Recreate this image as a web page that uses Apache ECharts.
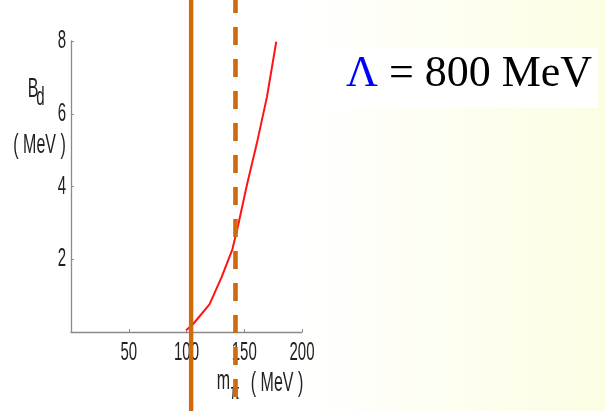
<!DOCTYPE html>
<html>
<head>
<meta charset="utf-8">
<script src="https://cdn.jsdelivr.net/npm/echarts@6/dist/echarts.min.js"></script>
<style>
html,body{margin:0;padding:0;width:605px;height:411px;overflow:hidden;
background:linear-gradient(to right,#ffffff 0%,#ffffff 50%,#fcfde3 100%);}
#c{width:605px;height:411px;}
</style>
</head>
<body>
<div id="c"></div>
<script>
// Red curve B_d vs m_pi (MeV)
const mPi = [99.7, 105.8, 119.9, 130.6, 139.8, 144.2, 152.3, 161.0, 169.7, 177.7];
const bD  = [0.05, 0.22, 0.76, 1.52, 2.28, 2.86, 4.04, 5.20, 6.47, 7.98];
// vertical reference lines (x in MeV)
const solidLineX = 104;
const dashedLineX = 142.4;
const xTicks = [50, 100, 150, 200];
const yTicks = [2, 4, 6, 8];

const chart = echarts.init(document.getElementById('c'), null, {renderer:'canvas'});
const sansFont = '"Liberation Sans",Arial,sans-serif';
const serifFont = '"Liberation Serif","Times New Roman",serif';
const axisCol = '#8a8a8a';
const txtCol = '#222';
const orange = '#d06a0c';
const SY = 1.75;

const curve = mPi.map((x,i)=>[x,bD[i]]);

chart.setOption({
  backgroundColor:'transparent',
  animation:false,
  grid:[
    {left:71,right:303,top:41,bottom:79},
    {left:71,right:303,top:0,bottom:0}
  ],
  xAxis:[
    {gridIndex:0,type:'value',min:0,max:200,interval:50,
     axisLine:{lineStyle:{color:axisCol,width:1.3}},
     axisTick:{inside:true,length:3,lineStyle:{color:axisCol}},
     splitLine:{show:false},
     axisLabel:{show:false}},
    {gridIndex:1,type:'value',min:0,max:200,show:false}
  ],
  yAxis:[
    {gridIndex:0,type:'value',min:0,max:8,interval:2,
     axisLine:{show:true,lineStyle:{color:axisCol,width:1.3}},
     axisTick:{show:true,inside:true,length:3,lineStyle:{color:axisCol}},
     splitLine:{show:false},
     axisLabel:{show:false}},
    {gridIndex:1,type:'value',min:0,max:1,show:false}
  ],
  series:[
    {type:'line',xAxisIndex:0,yAxisIndex:0,data:curve,showSymbol:false,
     lineStyle:{color:'#ff1414',width:2},z:3},
    {type:'line',xAxisIndex:1,yAxisIndex:1,data:[[solidLineX,1],[solidLineX,0]],showSymbol:false,
     lineStyle:{color:orange,width:4.4},z:20,silent:true},
    {type:'line',xAxisIndex:1,yAxisIndex:1,data:[[dashedLineX,1],[dashedLineX,0]],showSymbol:false,
     lineStyle:{color:orange,width:4.6,type:[18,14],dashOffset:5},z:20,silent:true}
  ]
});

function stretched(text, x, y, size, align, z){
  return {type:'text',x:x,y:y,scaleY:SY,z:z||1,zlevel:0,silent:true,
    style:{text:text,fontFamily:sansFont,fontSize:size,fill:txtCol,align:align||'center',verticalAlign:'middle'}};
}

const g = [];
// tick labels positioned via the axes' scales
xTicks.forEach(v=>{
  const p = chart.convertToPixel({xAxisIndex:0,yAxisIndex:0},[v,0]);
  g.push(stretched(String(v), p[0], p[1]+20.5, 15, 'center'));
});
yTicks.forEach(v=>{
  const p = chart.convertToPixel({xAxisIndex:0,yAxisIndex:0},[0,v]);
  g.push(stretched(String(v), p[0]-5, p[1], 15, 'right'));
});
// axis titles
g.push(stretched('B', 33, 89.5, 16, 'center'));
g.push(stretched('d', 40.5, 98, 15, 'center'));
g.push(stretched('( MeV )', 39.5, 145, 16, 'center'));
g.push(stretched('m', 223.5, 381.5, 16, 'center'));
g.push(stretched('π', 235, 393, 13, 'center'));
g.push(stretched('( MeV )', 277, 383.5, 16, 'center'));
// Lambda box
g.push({type:'rect',shape:{x:322,y:48,width:276,height:60},style:{fill:'#ffffff'},z:0,silent:true});
g.push({type:'text',x:346,y:74,z:2,silent:true,style:{
  text:'{a|Λ} = 800 MeV',fontFamily:serifFont,fontSize:44,fill:'#000',
  verticalAlign:'middle',align:'left',
  rich:{a:{fill:'#0000ff',fontFamily:serifFont,fontSize:44}}
}});
chart.setOption({graphic:g});
</script>
</body>
</html>
